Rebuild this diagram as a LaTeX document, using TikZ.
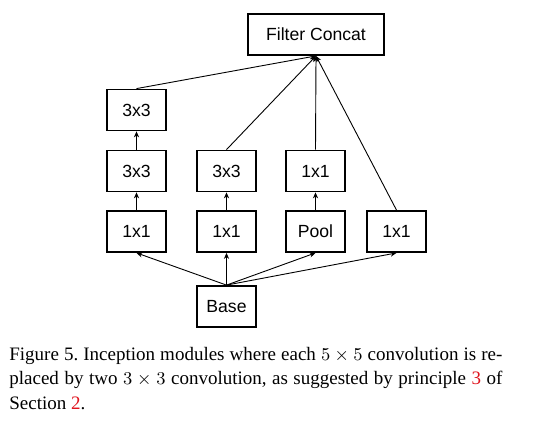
\documentclass[tikz,border=0pt]{standalone}
\usepackage{fontspec}
\setmainfont{Liberation Serif}
\newfontfamily\boxfont{Liberation Sans}
\usepackage{xcolor}
\usetikzlibrary{arrows.meta}
\definecolor{ink}{HTML}{000000}
\definecolor{ref}{HTML}{E0141E}

\begin{document}
\begin{tikzpicture}[x=0.5pt,y=-0.5pt,>={Stealth[length=3pt,width=2.6pt]},
  layer/.style={draw=ink,line width=0.9pt,minimum width=29.5pt,minimum height=20.5pt,
    inner sep=0pt,font=\boxfont\fontsize{8.8}{10}\selectfont},
  link/.style={->,ink,line width=0.45pt}]
\useasboundingbox (0,0) rectangle (550,424);
% --- the layers
\node[layer,minimum width=68pt] (concat) at (316,34.5) {Filter Concat};
\node[layer] (a1) at (136.5,110) {3x3};
\node[layer] (a2) at (136.5,171) {3x3};
\node[layer] (a3) at (136.5,231.5) {1x1};
\node[layer] (b2) at (226.5,171) {3x3};
\node[layer] (b3) at (226.5,231.5) {1x1};
\node[layer] (c2) at (315.5,171) {1x1};
\node[layer] (c3) at (315.5,231.5) {Pool};
\node[layer] (d3) at (396.5,231.5) {1x1};
\node[layer] (base) at (226.5,306.5) {Base};
% --- from the base
\foreach \n in {a3,b3,c3,d3} {\draw[link] (base.north) -- (\n.south);}
% --- up the branches
\draw[link] (a3) -- (a2);
\draw[link] (a2) -- (a1);
\draw[link] (b3) -- (b2);
\draw[link] (c3) -- (c2);
% --- into the concat
\foreach \n in {a1,b2,c2,d3} {\draw[link] (\n.north) -- (concat.south);}
% --- caption
\node[anchor=base west,inner sep=0pt,text width=246.5pt,align=justify,
  font=\fontsize{9.5}{12.25}\selectfont\frenchspacing] (caption) at (9,360)
  {Figure 5. Inception modules where each $5\times 5$ convolution is re-\linebreak placed by two $3\times 3$ convolution, as suggested by principle \textcolor{ref}{3} of\linebreak Section~\textcolor{ref}{2}.};
\end{tikzpicture}
\end{document}
